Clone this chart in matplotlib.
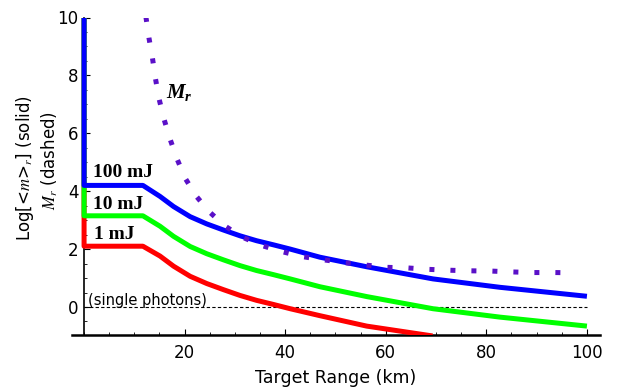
import matplotlib
matplotlib.use("Agg")
import matplotlib.pyplot as plt
from matplotlib.ticker import MultipleLocator

# ---- data ----
blue_x = [0.0, 0.0, 11.7, 15.1, 17.8, 21.1, 24.4, 27.7, 31.0, 34.3, 37.6, 41.0, 46.9, 56.2, 69.4, 82.7, 100.0]
blue_y = [10.0, 4.20, 4.20, 3.82, 3.47, 3.12, 2.87, 2.66, 2.46, 2.29, 2.15, 2.00, 1.72, 1.39, 0.97, 0.68, 0.37]

green_x = [0.0, 0.0, 11.7, 15.1, 17.8, 21.1, 24.4, 27.7, 31.0, 34.3, 37.6, 41.0, 46.9, 56.2, 69.4, 82.7, 100.0]
green_y = [10.0, 3.15, 3.15, 2.79, 2.44, 2.09, 1.84, 1.63, 1.43, 1.26, 1.12, 0.97, 0.70, 0.36, -0.06, -0.35, -0.66]

red_x = [0.0, 0.0, 11.7, 15.1, 17.8, 21.1, 24.4, 27.7, 31.0, 34.3, 37.6, 41.0, 46.9, 56.2, 69.3]
red_y = [10.0, 2.10, 2.10, 1.76, 1.41, 1.06, 0.81, 0.60, 0.40, 0.23, 0.09, -0.06, -0.30, -0.66, -1.00]

mr_x = [12.3, 12.9, 13.6, 14.2, 14.9, 15.9, 17.1, 18.5, 20.1, 22.3, 24.9, 28.0, 31.5, 35.4,
        39.4, 43.4, 47.6, 51.8, 55.9, 60.2, 64.3, 68.5, 72.6, 76.9, 81.1, 85.3, 89.5, 93.7, 97.8]
mr_y = [10.02, 9.30, 8.60, 7.89, 7.20, 6.49, 5.80, 5.11, 4.45, 3.83, 3.29, 2.80, 2.41, 2.12,
        1.91, 1.74, 1.63, 1.53, 1.45, 1.37, 1.35, 1.30, 1.27, 1.25, 1.24, 1.21, 1.19, 1.19, 1.18]

x_ticks = [20, 40, 60, 80, 100]
y_ticks = [0, 2, 4, 6, 8, 10]
energy_labels = ["100 mJ", "10 mJ", "1 mJ"]

# custom math fontset (bold italic serif) used only for the M_r annotation
plt.rcParams['mathtext.fontset'] = 'stix'
plt.rcParams['mathtext.it'] = 'Liberation Serif:italic:bold'
plt.rcParams['mathtext.rm'] = 'Liberation Serif:bold'
plt.rcParams['mathtext.bf'] = 'Liberation Serif:bold'

fig = plt.figure(figsize=(6.19, 3.91), dpi=100)
ax = fig.add_axes([72/619, 1 - 334.5/391, 528/619, 317/391])
ax.set_xlim(-2.4, 102.6)
ax.set_ylim(-0.95, 10.0)

# axes styling (Mathematica-like)
for s in ['top', 'right']:
    ax.spines[s].set_visible(False)
ax.spines['left'].set_position(('data', 0))
ax.spines['left'].set_linewidth(1.2)
ax.spines['bottom'].set_linewidth(1.8)
ax.set_xticks(x_ticks)
ax.set_yticks(y_ticks)
ax.xaxis.set_minor_locator(MultipleLocator(5))
ax.yaxis.set_minor_locator(MultipleLocator(0.5))
ax.tick_params(axis='both', which='major', direction='in', length=4, width=0.8,
               labelsize=12)
ax.tick_params(axis='both', which='minor', direction='in', length=2.5, width=0.6)
ax.tick_params(axis='x', pad=7)
ax.tick_params(axis='y', pad=4)

# dashed single-photon line
ax.plot([0, 100], [0, 0], color='black', lw=0.8, ls=(0, (3, 2)), zorder=2)
ax.text(0.8, 0.24, "(single photons)", fontsize=10.5, va='center', ha='left')

lw = 3.6
ax.plot(red_x, red_y, color='#ff0000', lw=lw, solid_capstyle='butt', zorder=3)
ax.plot(green_x, green_y, color='#00ff00', lw=lw, solid_capstyle='butt', zorder=4)
ax.plot(blue_x, blue_y, color='#0000ff', lw=lw, solid_capstyle='butt', zorder=5)
ax.plot(mr_x, mr_y, color='#5a10c8', lw=3.6, ls=(0, (1, 3.2)), dash_capstyle='butt', zorder=6)

lab_font = dict(family='Liberation Serif', weight='bold', fontsize=14, va='center', ha='left')
ax.text(1.7, 4.64, energy_labels[0], **lab_font)
ax.text(1.7, 3.53, energy_labels[1], **lab_font)
ax.text(1.9, 2.49, energy_labels[2], **lab_font)

# M_r annotation in bold italic serif
ax.text(16.2, 7.4, r'$M_r$', fontsize=15, va='center', ha='left', math_fontfamily='custom')

ax.set_xlabel("Target Range (km)", fontsize=12.5, labelpad=5)
fig.text(25/619, 1 - 168/391, r'Log[<$m$>$_r$] (solid)', rotation=90, fontsize=12,
         ha='center', va='center', math_fontfamily='stix')
fig.text(50/619, 1 - 160/391, r'$M_r$ (dashed)', rotation=90, fontsize=12,
         ha='center', va='center', math_fontfamily='stix')

fig.savefig("out.png", dpi=100)
